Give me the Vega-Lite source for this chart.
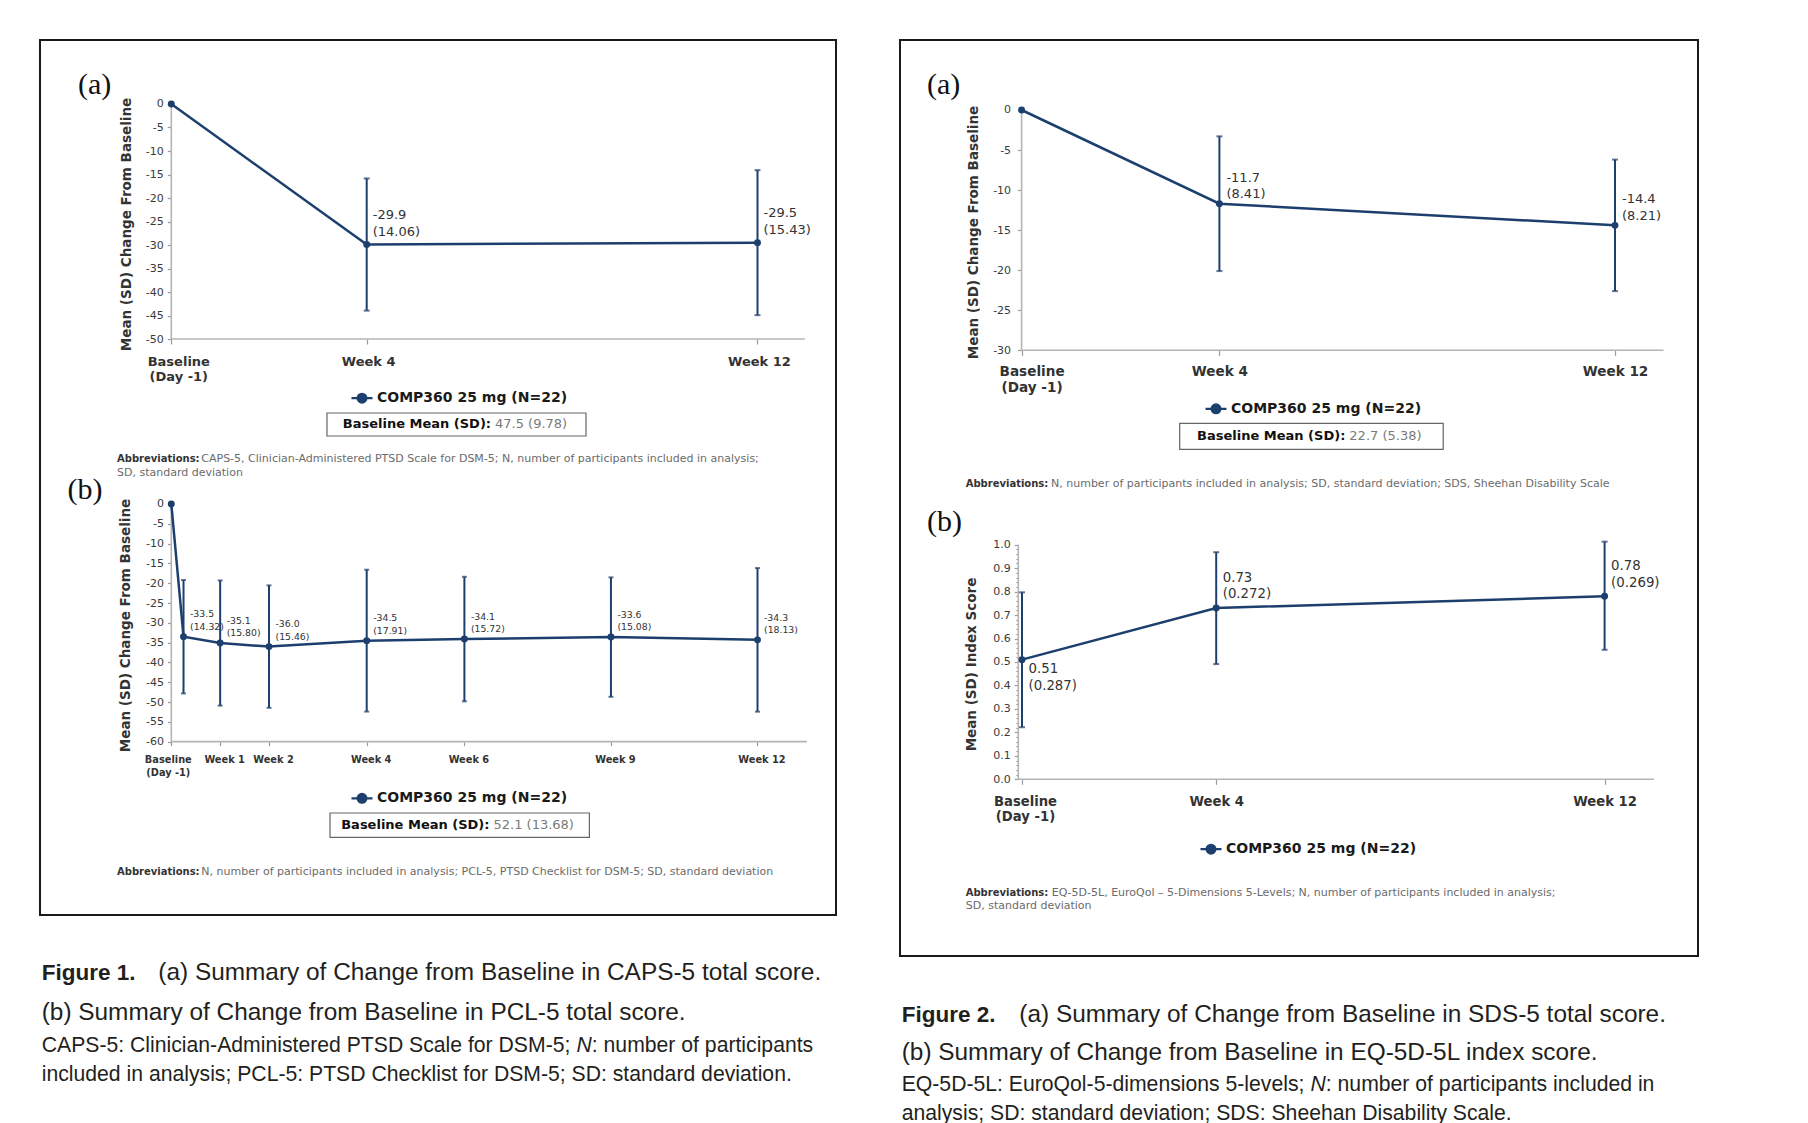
{
  "$schema": "https://vega.github.io/schema/vega-lite/v6.json",
  "background": "white",
  "padding": {"left": 39, "top": 39, "right": 5, "bottom": 0},
  "spacing": 62,
  "datasets": {
    "caps5": [
      {"week": 0, "mean": 0, "series": "COMP360 25 mg (N=22)"},
      {"week": 4, "mean": -29.9, "sd": 14.06, "series": "COMP360 25 mg (N=22)"},
      {"week": 12, "mean": -29.5, "sd": 15.43, "series": "COMP360 25 mg (N=22)"}
    ],
    "pcl5": [
      {"week": 0, "mean": 0, "series": "COMP360 25 mg (N=22)"},
      {"week": 0.25, "mean": -33.5, "sd": 14.32, "series": "COMP360 25 mg (N=22)"},
      {"week": 1, "mean": -35.1, "sd": 15.80, "series": "COMP360 25 mg (N=22)"},
      {"week": 2, "mean": -36.0, "sd": 15.46, "series": "COMP360 25 mg (N=22)"},
      {"week": 4, "mean": -34.5, "sd": 17.91, "series": "COMP360 25 mg (N=22)"},
      {"week": 6, "mean": -34.1, "sd": 15.72, "series": "COMP360 25 mg (N=22)"},
      {"week": 9, "mean": -33.6, "sd": 15.08, "series": "COMP360 25 mg (N=22)"},
      {"week": 12, "mean": -34.3, "sd": 18.13, "series": "COMP360 25 mg (N=22)"}
    ],
    "sds5": [
      {"week": 0, "mean": 0, "series": "COMP360 25 mg (N=22)"},
      {"week": 4, "mean": -11.7, "sd": 8.41, "series": "COMP360 25 mg (N=22)"},
      {"week": 12, "mean": -14.4, "sd": 8.21, "series": "COMP360 25 mg (N=22)"}
    ],
    "eq5d": [
      {"week": 0, "mean": 0.51, "sd": 0.287, "lo": 0.222, "hi": 0.797, "series": "COMP360 25 mg (N=22)"},
      {"week": 4, "mean": 0.73, "sd": 0.272, "lo": 0.491, "hi": 0.968, "series": "COMP360 25 mg (N=22)"},
      {"week": 12, "mean": 0.78, "sd": 0.269, "lo": 0.552, "hi": 1.013, "series": "COMP360 25 mg (N=22)"}
    ]
  },
  "hconcat": [
    {
      "width": 796,
      "height": 875,
      "view": {"stroke": "#1a1a1a", "strokeWidth": 2},
      "resolve": {"scale": {"x": "independent", "y": "independent", "color": "independent"}},
      "layer": [
        {
          "data": {"name": "caps5"},
          "layer": [
            {"data": {"values": [{}]}, "mark": {"type": "rule", "color": "#b4b4b4", "strokeWidth": 1.6},
             "encoding": {"x": {"datum": 0, "type": "quantitative"}, "y": {"datum": 0, "type": "quantitative"}, "y2": {"datum": -50}}},
            {"data": {"values": [{}]}, "mark": {"type": "rule", "color": "#b4b4b4", "strokeWidth": 1.6},
             "encoding": {"x": {"datum": 0, "type": "quantitative"}, "x2": {"datum": 12.97}, "y": {"datum": -50, "type": "quantitative"}}},
            {"mark": {"type": "line", "strokeWidth": 2.5},
             "encoding": {
               "x": {"field": "week", "type": "quantitative", "title": null, "scale": {"domain": [-2.6878, 13.607], "nice": false, "zero": false},
                     "axis": {"orient": "bottom", "offset": -576, "values": [0, 4, 12], "title": null, "tickSize": 5, "labelFontSize": 13, "labelFontWeight": "bold", "labelColor": "#333", "labelPadding": 11, "labelLineHeight": 15.7, "labelBaseline": "top", "labelAlign": "center", "labelOverlap": false,
                              "labelExpr": "datum.value === 0 ? ['Baseline', '(Day -1)'] : 'Week ' + datum.value",
                              "labelOffset": {"condition": {"test": "datum.value === 0", "value": 7}, "value": 1.5}}},
               "y": {"field": "mean", "type": "quantitative", "title": "Mean (SD) Change From Baseline", "scale": {"domain": [-172.553, 13.617], "nice": false, "zero": false},
                     "axis": {"orient": "left", "offset": -131.3, "values": [0, -5, -10, -15, -20, -25, -30, -35, -40, -45, -50], "title": "Mean (SD) Change From Baseline", "titleX": -45.3, "titleY": 184, "titleAngle": 270, "titleAlign": "center", "titleBaseline": "middle", "titleFontSize": 13.5, "titleFontWeight": "bold", "tickSize": 4, "labelPadding": 4, "labelFontSize": 11, "labelOverlap": false, "labelExpr": "replace(datum.label, '−', '-')"}},
               "color": {"field": "series", "type": "nominal", "scale": {"range": ["#1c3f6e"]},
                         "legend": {"orient": "none", "legendX": 310, "legendY": 346.2, "title": null,
                                    "encode": {"symbols": {"update": {"fill": {"value": "#1c3f6e"}, "stroke": {"value": "#1c3f6e"}, "strokeWidth": {"value": 2.2}}}}}}
             }},
            {"transform": [{"filter": "datum.sd != null"}],
             "mark": {"type": "errorbar", "color": "#1c3f6e", "thickness": 2, "ticks": {"size": 6, "thickness": 2}},
             "encoding": {"x": {"field": "week", "type": "quantitative", "title": null}, "y": {"field": "mean", "type": "quantitative", "title": "Mean (SD) Change From Baseline"}, "yError": {"field": "sd"}}},
            {"mark": {"type": "point", "filled": true, "size": 48, "color": "#1c3f6e", "opacity": 1},
             "encoding": {"x": {"field": "week", "type": "quantitative", "title": null}, "y": {"field": "mean", "type": "quantitative", "title": "Mean (SD) Change From Baseline"}}},
            {"transform": [{"filter": "datum.sd != null"}],
             "mark": {"type": "text", "align": "left", "baseline": "middle", "dx": 6, "dy": -29.3, "fontSize": 13, "lineHeight": 16.7, "color": "#333",
                      "text": {"expr": "[replace(format(datum.mean, '.1f'), '−', '-'), '(' + format(datum.sd, '.2f') + ')']"}},
             "encoding": {"x": {"field": "week", "type": "quantitative", "title": null}, "y": {"field": "mean", "type": "quantitative", "title": "Mean (SD) Change From Baseline"}}},
            {"data": {"values": [{}]},
             "layer": [
               {"mark": {"type": "text", "text": "(a)", "font": "Liberation Serif", "fontSize": 30, "align": "left", "baseline": "middle", "color": "#111"},
                "encoding": {"x": {"datum": -1.9099}, "y": {"datum": 4.0426}}},
               {"mark": {"type": "rect", "fill": "white", "stroke": "#666", "strokeWidth": 1.2},
                "encoding": {"x": {"datum": 3.187}, "x2": {"datum": 8.489}, "y": {"datum": -65.745}, "y2": {"datum": -70.638}}},
               {"mark": {"type": "text", "text": "Baseline Mean (SD):", "fontSize": 13, "fontWeight": "bold", "align": "right", "baseline": "middle", "dx": -2, "color": "#111"},
                "encoding": {"x": {"datum": 6.586}, "y": {"datum": -68.085}}},
               {"mark": {"type": "text", "text": "47.5 (9.78)", "fontSize": 13, "align": "left", "baseline": "middle", "dx": 2, "color": "#7a7a7a"},
                "encoding": {"x": {"datum": 6.586}, "y": {"datum": -68.085}}},
               {"mark": {"type": "text", "text": "Abbreviations:", "fontSize": 10, "fontWeight": "bold", "align": "left", "baseline": "middle", "color": "#333"},
                "encoding": {"x": {"datum": -1.1116}, "y": {"datum": -75.532}}},
               {"mark": {"type": "text", "text": "CAPS-5, Clinician-Administered PTSD Scale for DSM-5; N, number of participants included in analysis;", "fontSize": 11, "align": "left", "baseline": "middle", "dx": 84.3, "color": "#6b6b6b"},
                "encoding": {"x": {"datum": -1.1116}, "y": {"datum": -75.532}}},
               {"mark": {"type": "text", "text": "SD, standard deviation", "fontSize": 11, "align": "left", "baseline": "middle", "color": "#6b6b6b"},
                "encoding": {"x": {"datum": -1.1116}, "y": {"datum": -78.447}}}
             ]}
          ]
        },
        {
          "data": {"name": "pcl5"},
          "layer": [
            {"data": {"values": [{}]}, "mark": {"type": "rule", "color": "#b4b4b4", "strokeWidth": 1.6},
             "encoding": {"x": {"datum": 0, "type": "quantitative"}, "y": {"datum": 0, "type": "quantitative"}, "y2": {"datum": -60}}},
            {"data": {"values": [{}]}, "mark": {"type": "rule", "color": "#b4b4b4", "strokeWidth": 1.6},
             "encoding": {"x": {"datum": 0, "type": "quantitative"}, "x2": {"datum": 13.01}, "y": {"datum": -60, "type": "quantitative"}}},
            {"mark": {"type": "line", "strokeWidth": 2.5},
             "encoding": {
               "x": {"field": "week", "type": "quantitative", "title": null, "scale": {"domain": [-2.6878, 13.607], "nice": false, "zero": false},
                     "axis": {"orient": "bottom", "offset": -173.3, "values": [0, 1, 2, 4, 6, 9, 12], "title": null, "tickSize": 4, "labelFontSize": 9.8, "labelFontWeight": "bold", "labelColor": "#333", "labelPadding": 8.5, "labelLineHeight": 13.3, "labelBaseline": "top", "labelAlign": "center", "labelOverlap": false,
                              "labelExpr": "datum.value === 0 ? ['Baseline', '(Day -1)'] : 'Week ' + datum.value",
                              "labelOffset": {"condition": {"test": "datum.value === 0", "value": -3.5}, "value": 4}}},
               "y": {"field": "mean", "type": "quantitative", "title": "Mean (SD) Change From Baseline", "scale": {"domain": [-103.762, 117.142], "nice": false, "zero": false},
                     "axis": {"orient": "left", "offset": -131.5, "values": [0, -5, -10, -15, -20, -25, -30, -35, -40, -45, -50, -55, -60], "title": "Mean (SD) Change From Baseline", "titleX": -46.5, "titleY": 585, "titleAngle": 270, "titleAlign": "center", "titleBaseline": "middle", "titleFontSize": 13.5, "titleFontWeight": "bold", "tickSize": 4, "labelPadding": 4, "labelFontSize": 11, "labelOverlap": false, "labelExpr": "replace(datum.label, '−', '-')"}},
               "color": {"field": "series", "type": "nominal", "scale": {"range": ["#1c3f6e"]},
                         "legend": {"orient": "none", "legendX": 310, "legendY": 746.3, "title": null,
                                    "encode": {"symbols": {"update": {"fill": {"value": "#1c3f6e"}, "stroke": {"value": "#1c3f6e"}, "strokeWidth": {"value": 2.2}}}}}}
             }},
            {"transform": [{"filter": "datum.sd != null"}],
             "mark": {"type": "errorbar", "color": "#1c3f6e", "thickness": 2, "ticks": {"size": 5, "thickness": 2}},
             "encoding": {"x": {"field": "week", "type": "quantitative", "title": null}, "y": {"field": "mean", "type": "quantitative", "title": "Mean (SD) Change From Baseline"}, "yError": {"field": "sd"}}},
            {"mark": {"type": "point", "filled": true, "size": 48, "color": "#1c3f6e", "opacity": 1},
             "encoding": {"x": {"field": "week", "type": "quantitative", "title": null}, "y": {"field": "mean", "type": "quantitative", "title": "Mean (SD) Change From Baseline"}}},
            {"transform": [{"filter": "datum.sd != null"}],
             "mark": {"type": "text", "align": "left", "baseline": "middle", "dx": 6.5, "dy": -22.3, "fontSize": 9.3, "lineHeight": 12.7, "color": "#333",
                      "text": {"expr": "[replace(format(datum.mean, '.1f'), '−', '-'), '(' + format(datum.sd, '.2f') + ')']"}},
             "encoding": {"x": {"field": "week", "type": "quantitative", "title": null}, "y": {"field": "mean", "type": "quantitative", "title": "Mean (SD) Change From Baseline"}}},
            {"data": {"values": [{}]},
             "layer": [
               {"mark": {"type": "text", "text": "(b)", "font": "Liberation Serif", "fontSize": 30, "align": "left", "baseline": "middle", "color": "#111"},
                "encoding": {"x": {"datum": -2.1249}, "y": {"datum": 3.6354}}},
               {"mark": {"type": "rect", "fill": "white", "stroke": "#666", "strokeWidth": 1.2},
                "encoding": {"x": {"datum": 3.2487}, "x2": {"datum": 8.5589}, "y": {"datum": -78.011}, "y2": {"datum": -84.171}}},
               {"mark": {"type": "text", "text": "Baseline Mean (SD):", "fontSize": 13, "fontWeight": "bold", "align": "right", "baseline": "middle", "dx": -2, "color": "#111"},
                "encoding": {"x": {"datum": 6.5548}, "y": {"datum": -81.04}}},
               {"mark": {"type": "text", "text": "52.1 (13.68)", "fontSize": 13, "align": "left", "baseline": "middle", "dx": 2, "color": "#7a7a7a"},
                "encoding": {"x": {"datum": 6.5548}, "y": {"datum": -81.04}}},
               {"mark": {"type": "text", "text": "Abbreviations:", "fontSize": 10, "fontWeight": "bold", "align": "left", "baseline": "middle", "color": "#333"},
                "encoding": {"x": {"datum": -1.1116}, "y": {"datum": -92.83}}},
               {"mark": {"type": "text", "text": "N, number of participants included in analysis; PCL-5, PTSD Checklist for DSM-5; SD, standard deviation", "fontSize": 11, "align": "left", "baseline": "middle", "dx": 84.3, "color": "#6b6b6b"},
                "encoding": {"x": {"datum": -1.1116}, "y": {"datum": -92.83}}},
               {"mark": {"type": "text", "text": "Figure 1.", "font": "Liberation Sans", "fontSize": 22.5, "fontWeight": "bold", "align": "left", "baseline": "alphabetic", "color": "#231f20"},
                "encoding": {"x": {"datum": -2.653}, "y": {"datum": -120.17}}},
               {"mark": {"type": "text", "text": "(a) Summary of Change from Baseline in CAPS-5 total score.", "font": "Liberation Sans", "fontSize": 24.4, "align": "left", "baseline": "alphabetic", "dx": 116.6, "color": "#231f20"},
                "encoding": {"x": {"datum": -2.653}, "y": {"datum": -120.17}}},
               {"mark": {"type": "text", "text": "(b) Summary of Change from Baseline in PCL-5 total score.", "font": "Liberation Sans", "fontSize": 24.4, "align": "left", "baseline": "alphabetic", "color": "#231f20"},
                "encoding": {"x": {"datum": -2.653}, "y": {"datum": -130.27}}},
               {"mark": {"type": "text", "text": "CAPS-5: Clinician-Administered PTSD Scale for DSM-5; ", "font": "Liberation Sans", "fontSize": 21.2, "align": "left", "baseline": "alphabetic", "color": "#231f20"},
                "encoding": {"x": {"datum": -2.653}, "y": {"datum": -138.30}}},
               {"mark": {"type": "text", "text": "N", "font": "Liberation Sans", "fontSize": 21.2, "fontStyle": "italic", "align": "left", "baseline": "alphabetic", "dx": 534.8, "color": "#231f20"},
                "encoding": {"x": {"datum": -2.653}, "y": {"datum": -138.30}}},
               {"mark": {"type": "text", "text": ": number of participants", "font": "Liberation Sans", "fontSize": 21.2, "align": "left", "baseline": "alphabetic", "dx": 550.1, "color": "#231f20"},
                "encoding": {"x": {"datum": -2.653}, "y": {"datum": -138.30}}},
               {"mark": {"type": "text", "text": "included in analysis; PCL-5: PTSD Checklist for DSM-5; SD: standard deviation.", "font": "Liberation Sans", "fontSize": 21.2, "align": "left", "baseline": "alphabetic", "color": "#231f20"},
                "encoding": {"x": {"datum": -2.653}, "y": {"datum": -145.72}}}
             ]}
          ]
        }
      ]
    },
    {
      "width": 798,
      "height": 916,
      "view": {"stroke": "#1a1a1a", "strokeWidth": 2},
      "resolve": {"scale": {"x": "independent", "y": "independent", "color": "independent"}},
      "layer": [
        {
          "data": {"name": "sds5"},
          "layer": [
            {"data": {"values": [{}]}, "mark": {"type": "rule", "color": "#b4b4b4", "strokeWidth": 1.6},
             "encoding": {"x": {"datum": 0, "type": "quantitative"}, "y": {"datum": 0, "type": "quantitative"}, "y2": {"datum": -30}}},
            {"data": {"values": [{}]}, "mark": {"type": "rule", "color": "#b4b4b4", "strokeWidth": 1.6},
             "encoding": {"x": {"datum": 0, "type": "quantitative"}, "x2": {"datum": 12.98}, "y": {"datum": -30, "type": "quantitative"}}},
            {"mark": {"type": "line", "strokeWidth": 2.5},
             "encoding": {
               "x": {"field": "week", "type": "quantitative", "title": null, "scale": {"domain": [-2.459, 13.6785], "nice": false, "zero": false},
                     "axis": {"orient": "bottom", "offset": -605.7, "values": [0, 4, 12], "title": null, "tickSize": 5, "labelFontSize": 13.6, "labelFontWeight": "bold", "labelColor": "#333", "labelPadding": 9, "labelLineHeight": 16.7, "labelBaseline": "top", "labelAlign": "center", "labelOverlap": false,
                              "labelExpr": "datum.value === 0 ? ['Baseline', '(Day -1)'] : 'Week ' + datum.value",
                              "labelOffset": {"condition": {"test": "datum.value === 0", "value": 10}, "value": 0}}},
               "y": {"field": "mean", "type": "quantitative", "title": "Mean (SD) Change From Baseline", "scale": {"domain": [-105.618, 8.739], "nice": false, "zero": false},
                     "axis": {"orient": "left", "offset": -121.6, "values": [0, -5, -10, -15, -20, -25, -30], "title": "Mean (SD) Change From Baseline", "titleX": -48.4, "titleY": 192, "titleAngle": 270, "titleAlign": "center", "titleBaseline": "middle", "titleFontSize": 13.5, "titleFontWeight": "bold", "tickSize": 4, "labelPadding": 7, "labelFontSize": 11, "labelOverlap": false, "labelExpr": "replace(datum.label, '−', '-')"}},
               "color": {"field": "series", "type": "nominal", "scale": {"range": ["#1c3f6e"]},
                         "legend": {"orient": "none", "legendX": 304, "legendY": 356.8, "title": null,
                                    "encode": {"symbols": {"update": {"fill": {"value": "#1c3f6e"}, "stroke": {"value": "#1c3f6e"}, "strokeWidth": {"value": 2.2}}}}}}
             }},
            {"transform": [{"filter": "datum.sd != null"}],
             "mark": {"type": "errorbar", "color": "#1c3f6e", "thickness": 2, "ticks": {"size": 6, "thickness": 2}},
             "encoding": {"x": {"field": "week", "type": "quantitative", "title": null}, "y": {"field": "mean", "type": "quantitative", "title": "Mean (SD) Change From Baseline"}, "yError": {"field": "sd"}}},
            {"mark": {"type": "point", "filled": true, "size": 48, "color": "#1c3f6e", "opacity": 1},
             "encoding": {"x": {"field": "week", "type": "quantitative", "title": null}, "y": {"field": "mean", "type": "quantitative", "title": "Mean (SD) Change From Baseline"}}},
            {"transform": [{"filter": "datum.sd != null"}],
             "mark": {"type": "text", "align": "left", "baseline": "middle", "dx": 7, "dy": -26.2, "fontSize": 13, "lineHeight": 16.5, "color": "#333",
                      "text": {"expr": "[replace(format(datum.mean, '.1f'), '−', '-'), '(' + format(datum.sd, '.2f') + ')']"}},
             "encoding": {"x": {"field": "week", "type": "quantitative", "title": null}, "y": {"field": "mean", "type": "quantitative", "title": "Mean (SD) Change From Baseline"}}},
            {"data": {"values": [{}]},
             "layer": [
               {"mark": {"type": "text", "text": "(a)", "font": "Liberation Serif", "fontSize": 30, "align": "left", "baseline": "middle", "color": "#111"},
                "encoding": {"x": {"datum": -1.913}, "y": {"datum": 3.1211}}},
               {"mark": {"type": "rect", "fill": "white", "stroke": "#666", "strokeWidth": 1.2},
                "encoding": {"x": {"datum": 3.1972}, "x2": {"datum": 8.5258}, "y": {"datum": -39.114}, "y2": {"datum": -42.36}}},
               {"mark": {"type": "text", "text": "Baseline Mean (SD):", "fontSize": 13, "fontWeight": "bold", "align": "right", "baseline": "middle", "dx": -2, "color": "#111"},
                "encoding": {"x": {"datum": 6.5875}, "y": {"datum": -40.699}}},
               {"mark": {"type": "text", "text": "22.7 (5.38)", "fontSize": 13, "align": "left", "baseline": "middle", "dx": 2, "color": "#7a7a7a"},
                "encoding": {"x": {"datum": 6.5875}, "y": {"datum": -40.699}}},
               {"mark": {"type": "text", "text": "Abbreviations:", "fontSize": 10, "fontWeight": "bold", "align": "left", "baseline": "middle", "color": "#333"},
                "encoding": {"x": {"datum": -1.1304}, "y": {"datum": -46.692}}},
               {"mark": {"type": "text", "text": "N, number of participants included in analysis; SD, standard deviation; SDS, Sheehan Disability Scale", "fontSize": 11, "align": "left", "baseline": "middle", "dx": 85.3, "color": "#6b6b6b"},
                "encoding": {"x": {"datum": -1.1304}, "y": {"datum": -46.692}}}
             ]}
          ]
        },
        {
          "data": {"name": "eq5d"},
          "layer": [
            {"data": {"values": [{}]}, "mark": {"type": "rule", "color": "#b4b4b4", "strokeWidth": 1.6},
             "encoding": {"x": {"datum": -0.0762, "type": "quantitative"}, "y": {"datum": 0, "type": "quantitative"}, "y2": {"datum": 1}}},
            {"data": {"values": [{}]}, "mark": {"type": "rule", "color": "#b4b4b4", "strokeWidth": 1.6},
             "encoding": {"x": {"datum": -0.0762, "type": "quantitative"}, "x2": {"datum": 13.0175}, "y": {"datum": 0, "type": "quantitative"}}},
            {"mark": {"type": "line", "strokeWidth": 2.5},
             "encoding": {
               "x": {"field": "week", "type": "quantitative", "title": null, "scale": {"domain": [-2.5129, 13.9238], "nice": false, "zero": false},
                     "axis": {"orient": "bottom", "offset": -176.7, "values": [0, 4, 12], "title": null, "tickSize": 5, "labelFontSize": 13.2, "labelFontWeight": "bold", "labelColor": "#333", "labelPadding": 11, "labelLineHeight": 15.7, "labelBaseline": "top", "labelAlign": "center", "labelOverlap": false,
                              "labelExpr": "datum.value === 0 ? ['Baseline', '(Day -1)'] : 'Week ' + datum.value",
                              "labelOffset": {"condition": {"test": "datum.value === 0", "value": 3}, "value": 0}}},
               "y": {"field": "mean", "type": "quantitative", "title": "Mean (SD) Index Score", "scale": {"domain": [-0.7532, 3.15132], "nice": false, "zero": false},
                     "axis": {"orient": "left", "offset": -118.3, "values": [0, 0.1, 0.2, 0.3, 0.4, 0.5, 0.6, 0.7, 0.8, 0.9, 1.0], "format": ".1f", "title": "Mean (SD) Index Score", "titleX": -46.6, "titleY": 624, "titleAngle": 270, "titleAlign": "center", "titleBaseline": "middle", "titleFontSize": 13.5, "titleFontWeight": "bold", "tickSize": 4, "labelPadding": 4, "labelFontSize": 11, "labelOverlap": false}},
               "color": {"field": "series", "type": "nominal", "scale": {"range": ["#1c3f6e"]},
                         "legend": {"orient": "none", "legendX": 299, "legendY": 797.2, "title": null,
                                    "encode": {"symbols": {"update": {"fill": {"value": "#1c3f6e"}, "stroke": {"value": "#1c3f6e"}, "strokeWidth": {"value": 2.2}}}}}}
             }},
            {"mark": {"type": "errorbar", "color": "#1c3f6e", "thickness": 2, "ticks": {"size": 6, "thickness": 2}},
             "encoding": {"x": {"field": "week", "type": "quantitative", "title": null}, "y": {"field": "lo", "type": "quantitative", "title": "Mean (SD) Index Score"}, "y2": {"field": "hi"}}},
            {"mark": {"type": "point", "filled": true, "size": 48, "color": "#1c3f6e", "opacity": 1},
             "encoding": {"x": {"field": "week", "type": "quantitative", "title": null}, "y": {"field": "mean", "type": "quantitative", "title": "Mean (SD) Index Score"}}},
            {"transform": [{"filter": "datum.week > 0"}],
             "mark": {"type": "text", "align": "left", "baseline": "middle", "dx": 6.5, "dy": -30.3, "fontSize": 13.3, "lineHeight": 16.7, "color": "#333",
                      "text": {"expr": "[format(datum.mean, '.2f'), '(' + format(datum.sd, '.3f') + ')']"}},
             "encoding": {"x": {"field": "week", "type": "quantitative", "title": null}, "y": {"field": "mean", "type": "quantitative", "title": "Mean (SD) Index Score"}}},
            {"transform": [{"filter": "datum.week === 0"}],
             "mark": {"type": "text", "align": "left", "baseline": "middle", "dx": 6.5, "dy": 9.4, "fontSize": 13.3, "lineHeight": 16.7, "color": "#333",
                      "text": {"expr": "[format(datum.mean, '.2f'), '(' + format(datum.sd, '.3f') + ')']"}},
             "encoding": {"x": {"field": "week", "type": "quantitative", "title": null}, "y": {"field": "mean", "type": "quantitative", "title": "Mean (SD) Index Score"}}},
            {"data": {"values": [{}]},
             "layer": [
               {"mark": {"type": "text", "text": "(b)", "font": "Liberation Serif", "fontSize": 30, "align": "left", "baseline": "middle", "color": "#111"},
                "encoding": {"x": {"datum": -1.9567}, "y": {"datum": 1.09676}}},
               {"mark": {"type": "text", "text": "Abbreviations:", "fontSize": 10, "fontWeight": "bold", "align": "left", "baseline": "middle", "color": "#333"},
                "encoding": {"x": {"datum": -1.1596}, "y": {"datum": -0.48551}}},
               {"mark": {"type": "text", "text": "EQ-5D-5L, EuroQol – 5-Dimensions 5-Levels; N, number of participants included in analysis;", "fontSize": 11, "align": "left", "baseline": "middle", "dx": 86, "color": "#6b6b6b"},
                "encoding": {"x": {"datum": -1.1596}, "y": {"datum": -0.48551}}},
               {"mark": {"type": "text", "text": "SD, standard deviation", "fontSize": 11, "align": "left", "baseline": "middle", "color": "#6b6b6b"},
                "encoding": {"x": {"datum": -1.1596}, "y": {"datum": -0.54177}}},
               {"mark": {"type": "text", "text": "Figure 2.", "font": "Liberation Sans", "fontSize": 22.5, "fontWeight": "bold", "align": "left", "baseline": "alphabetic", "color": "#231f20"},
                "encoding": {"x": {"datum": -2.4779}, "y": {"datum": -1.03368}}},
               {"mark": {"type": "text", "text": "(a) Summary of Change from Baseline in SDS-5 total score.", "font": "Liberation Sans", "fontSize": 24.4, "align": "left", "baseline": "alphabetic", "dx": 117.6, "color": "#231f20"},
                "encoding": {"x": {"datum": -2.4779}, "y": {"datum": -1.03368}}},
               {"mark": {"type": "text", "text": "(b) Summary of Change from Baseline in EQ-5D-5L index score.", "font": "Liberation Sans", "fontSize": 24.4, "align": "left", "baseline": "alphabetic", "color": "#231f20"},
                "encoding": {"x": {"datum": -2.4779}, "y": {"datum": -1.19523}}},
               {"mark": {"type": "text", "text": "EQ-5D-5L: EuroQol-5-dimensions 5-levels; ", "font": "Liberation Sans", "fontSize": 21.2, "align": "left", "baseline": "alphabetic", "color": "#231f20"},
                "encoding": {"x": {"datum": -2.4779}, "y": {"datum": -1.32737}}},
               {"mark": {"type": "text", "text": "N", "font": "Liberation Sans", "fontSize": 21.2, "fontStyle": "italic", "align": "left", "baseline": "alphabetic", "dx": 408.8, "color": "#231f20"},
                "encoding": {"x": {"datum": -2.4779}, "y": {"datum": -1.32737}}},
               {"mark": {"type": "text", "text": ": number of participants included in", "font": "Liberation Sans", "fontSize": 21.2, "align": "left", "baseline": "alphabetic", "dx": 424.1, "color": "#231f20"},
                "encoding": {"x": {"datum": -2.4779}, "y": {"datum": -1.32737}}},
               {"mark": {"type": "text", "text": "analysis; SD: standard deviation; SDS: Sheehan Disability Scale.", "font": "Liberation Sans", "fontSize": 21.2, "align": "left", "baseline": "alphabetic", "color": "#231f20"},
                "encoding": {"x": {"datum": -2.4779}, "y": {"datum": -1.45098}}}
             ]}
          ]
        },
        {
          "data": {"name": "eq5d"},
          "mark": {"type": "point", "opacity": 0},
          "encoding": {
            "y": {"field": "mean", "type": "quantitative", "title": null, "scale": {"domain": [-0.7532, 3.15132], "nice": false, "zero": false},
                  "axis": {"orient": "left", "offset": -118.3, "values": [0.02, 0.04, 0.06, 0.08, 0.12, 0.14, 0.16, 0.18, 0.22, 0.24, 0.26, 0.28, 0.32, 0.34, 0.36, 0.38, 0.42, 0.44, 0.46, 0.48, 0.52, 0.54, 0.56, 0.58, 0.62, 0.64, 0.66, 0.68, 0.72, 0.74, 0.76, 0.78, 0.82, 0.84, 0.86, 0.88, 0.92, 0.94, 0.96, 0.98], "labels": false, "tickSize": 2.5, "title": null}}
          }
        }
      ]
    }
  ],
  "config": {
    "axis": {"grid": false, "domain": false, "tickColor": "#9a9a9a", "tickWidth": 1.2, "labelFont": "DejaVu Sans", "labelColor": "#3a3a3a", "titleFont": "DejaVu Sans", "titleColor": "#333"},
    "legend": {"symbolType": "M-1,0H1M-0.42,0A0.42,0.42,0,1,0,0.42,0A0.42,0.42,0,1,0,-0.42,0Z", "symbolSize": 441, "symbolStrokeWidth": 2.2, "symbolFillColor": "#1c3f6e", "symbolStrokeColor": "#1c3f6e", "symbolOpacity": 1, "labelFont": "DejaVu Sans", "labelFontSize": 14, "labelFontWeight": "bold", "labelColor": "#1a1a1a", "labelOffset": 3, "labelLimit": 0, "padding": 0},
    "text": {"font": "DejaVu Sans"},
    "view": {"stroke": null}
  }
}
